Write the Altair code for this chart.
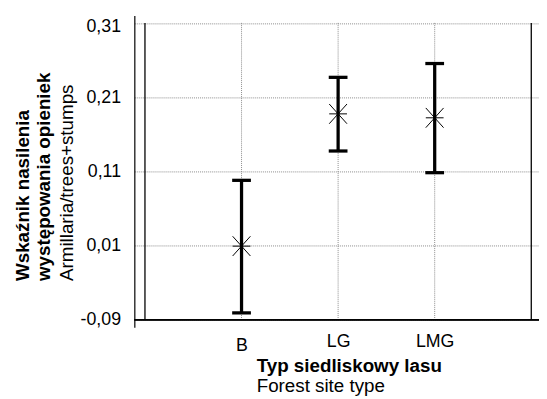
import altair as alt
import pandas as pd

# ---- data ----
categories = ["B", "LG", "LMG"]
cat_pos = [1, 2, 3]
means = [0.0094, 0.1875, 0.1822]
lower = [-0.0805, 0.1375, 0.1083]
upper = [0.0980, 0.2367, 0.2553]
y_ticks = [-0.09, 0.01, 0.11, 0.21, 0.31]
frame_x = [0, 4]

y_title_bold = ["Wskaźnik nasilenia", "występowania opieniek"]
y_title_sub = "Armillaria/trees+stumps"
x_title_bold = "Typ siedliskowy lasu"
x_title_sub = "Forest site type"

df = pd.DataFrame({"cat": categories, "pos": cat_pos, "mean": means,
                   "lo": lower, "hi": upper})
frame_df = pd.DataFrame({"pos": frame_x})

W, H = 410, 316
FONT = "Liberation Sans"
ymin, ymax = min(y_ticks), max(y_ticks)

xscale = alt.Scale(domain=[-0.11, 4.08], nice=False, zero=False)
yscale = alt.Scale(domain=[-0.10, 0.32], nice=False, zero=False)

x_label_expr = "[" + ",".join(f"'{c}'" for c in categories) + "][round(datum.value) - 1]"
y_label_expr = "replace(replace(format(datum.value, '.2f'), '.', ','), '\u2212', '-')"

x_axis = alt.Axis(values=cat_pos, labelExpr=x_label_expr, grid=False, domain=False,
                  ticks=False, tickSize=0, labelFontSize=18, labelFont=FONT,
                  labelColor="black", labelBaseline="alphabetic",
                  labelPadding={"condition": {"test": "datum.value == 1", "value": 23}, "value": 19},
                  title=None, labelFlush=False, labelOverlap=False)
y_axis = alt.Axis(values=y_ticks, labelExpr=y_label_expr, grid=True, gridColor="#8c8c8c",
                  gridDash=[1, 1], gridWidth=1, domain=True, domainColor="black",
                  domainWidth=1.2, ticks=False, tickSize=0, labelPadding=14,
                  labelFontSize=18, labelFont=FONT, labelColor="black", title=None,
                  labelOffset={"condition": {"test": "datum.value > 0.3", "value": 4}, "value": 0},
                  labelFlush=False, labelOverlap=False)

X = alt.X("pos:Q", scale=xscale, axis=x_axis)


def Y(field):
    return alt.Y(field, scale=yscale, axis=y_axis)


base = alt.Chart(df)

vgrid = base.mark_rule(color="#8c8c8c", strokeDash=[1, 1], strokeWidth=1).encode(
    x=X, y=alt.datum(ymax, scale=yscale, axis=y_axis), y2=alt.datum(ymin))

frame = alt.Chart(frame_df).mark_rule(color="black", strokeWidth=1.3).encode(
    x=X, y=alt.datum(ymax, scale=yscale, axis=y_axis), y2=alt.datum(ymin))

bottom = base.mark_rule(color="black", strokeWidth=1.3).encode(
    y=alt.datum(ymin, scale=yscale, axis=y_axis), x=alt.value(0), x2=alt.value(W))

bars = base.mark_rule(color="black", strokeWidth=3.3).encode(
    x=X, y=Y("lo:Q"), y2="hi:Q")

cap_lo = base.mark_tick(orient="horizontal", color="black", thickness=3.3, size=19, opacity=1).encode(
    x=X, y=Y("lo:Q"))
cap_hi = base.mark_tick(orient="horizontal", color="black", thickness=3.3, size=19, opacity=1).encode(
    x=X, y=Y("hi:Q"))

star = "M-0.9,-1L0.9,1M-0.9,1L0.9,-1M-0.9,0L0.9,0"
points = base.mark_point(shape=star, size=400, filled=False, color="black",
                         strokeWidth=1, opacity=1).encode(
    x=X, y=Y("mean:Q"))


def txt(text, x, y, bold, angle=0):
    kw = dict(font=FONT, fontSize=19, color="black", align="left",
              baseline="alphabetic", fontWeight="bold" if bold else "normal")
    if angle:
        kw["angle"] = angle
    return alt.Chart(pd.DataFrame({"t": [text]})).mark_text(**kw).encode(
        text="t:N", x=alt.value(x), y=alt.value(y))


titles = [
    txt(y_title_bold[0], -107, 269, True, 270),
    txt(y_title_bold[1], -85, 269, True, 270),
    txt(y_title_sub, -62, 269, False, 270),
    txt(x_title_bold, 124, 361, True),
    txt(x_title_sub, 124, 381, False),
]

chart = alt.layer(vgrid, frame, bottom, bars, cap_lo, cap_hi, points, *titles).properties(
    width=W, height=H,
    padding={"left": 128, "top": 5, "right": 0, "bottom": 70},
    autosize=alt.AutoSizeParams(type="none"),
).configure_view(stroke=None)

chart.save("out.html", embed_options={"renderer": "svg", "actions": False})
